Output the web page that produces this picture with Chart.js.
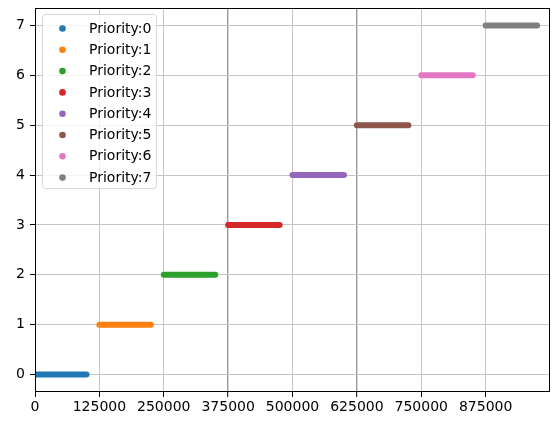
<!DOCTYPE html>
<html>
<head>
<meta charset="utf-8">
<script src="https://cdn.jsdelivr.net/npm/chart.js@4/dist/chart.umd.min.js"></script>
<style>
  html, body { margin: 0; padding: 0; background: #fff; }
  #wrap { width: 552px; height: 421px; }
</style>
</head>
<body>
<div id="wrap"><canvas id="c" width="552" height="421"></canvas></div>
<script>
// Each priority level occupies one horizontal run of samples.
const priorities = ['Priority:0', 'Priority:1', 'Priority:2', 'Priority:3',
                    'Priority:4', 'Priority:5', 'Priority:6', 'Priority:7'];
const levels = [0, 1, 2, 3, 4, 5, 6, 7];
const runStart = [0, 125000, 250000, 375000, 500000, 625000, 750000, 875000];
const runEnd = [100000, 225000, 350000, 475000, 600000, 725000, 850000, 975000];
const colors = ['#1f77b4', '#ff7f0e', '#2ca02c', '#d62728',
                '#9467bd', '#8c564b', '#e377c2', '#7f7f7f'];
const xTicks = [0, 125000, 250000, 375000, 500000, 625000, 750000, 875000];
const yTicks = [0, 1, 2, 3, 4, 5, 6, 7];
const xRange = [0, 1000000];
const yRange = [-0.35, 7.35];
const strongGrid = [375000, 625000];

const FONT = 'DejaVu Sans';
Chart.defaults.font.family = FONT;
Chart.defaults.font.size = 14;
Chart.defaults.color = '#000';

const datasets = priorities.map((name, i) => ({
  label: name,
  data: [{ x: runStart[i], y: levels[i] }, { x: runEnd[i], y: levels[i] }],
  showLine: true,
  borderColor: colors[i],
  backgroundColor: colors[i],
  borderWidth: 6,
  borderCapStyle: 'round',
  pointRadius: 0,
  pointHoverRadius: 0
}));

// Frame around the plotting area plus an in-plot legend box.
const framePlugin = {
  id: 'frameAndLegend',
  afterDraw(chart) {
    const { ctx, chartArea: a } = chart;
    ctx.save();
    ctx.strokeStyle = '#000';
    ctx.lineWidth = 1;
    ctx.strokeRect(Math.round(a.left) + 0.5, Math.round(a.top) + 0.5,
                   Math.round(a.right - a.left) - 1, Math.round(a.bottom - a.top) - 1);

    // legend
    const bx = 42.5, by = 14.5, bw = 114, bh = 174, r = 3;
    ctx.beginPath();
    ctx.moveTo(bx + r, by);
    ctx.lineTo(bx + bw - r, by);
    ctx.quadraticCurveTo(bx + bw, by, bx + bw, by + r);
    ctx.lineTo(bx + bw, by + bh - r);
    ctx.quadraticCurveTo(bx + bw, by + bh, bx + bw - r, by + bh);
    ctx.lineTo(bx + r, by + bh);
    ctx.quadraticCurveTo(bx, by + bh, bx, by + bh - r);
    ctx.lineTo(bx, by + r);
    ctx.quadraticCurveTo(bx, by, bx + r, by);
    ctx.closePath();
    ctx.fillStyle = 'rgba(255,255,255,0.8)';
    ctx.fill();
    ctx.strokeStyle = '#d6d6d6';
    ctx.stroke();

    ctx.font = '14px "' + FONT + '"';
    ctx.textBaseline = 'middle';
    ctx.textAlign = 'left';
    priorities.forEach((name, i) => {
      const y = 28.5 + i * 21.3;
      ctx.beginPath();
      ctx.arc(62.5, y, 3.3, 0, Math.PI * 2);
      ctx.fillStyle = colors[i];
      ctx.fill();
      ctx.fillStyle = '#000';
      ctx.fillText(name, 89, y + 0.5);
    });
    ctx.restore();
  }
};

new Chart(document.getElementById('c'), {
  type: 'scatter',
  data: { datasets },
  options: {
    responsive: false,
    devicePixelRatio: 1,
    animation: false,
    layout: { padding: { top: 8, right: 2, left: 0, bottom: 0 } },
    plugins: { legend: { display: false }, tooltip: { enabled: false } },
    scales: {
      x: {
        type: 'linear',
        min: xRange[0],
        max: xRange[1],
        afterBuildTicks: s => { s.ticks = xTicks.map(v => ({ value: v })); },
        afterFit: s => { s.height = 29; s.paddingLeft = 0; s.paddingRight = 0; },
        ticks: {
          callback: v => String(v),
          maxRotation: 0,
          autoSkip: false,
          padding: 2,
          color: '#000'
        },
        grid: {
          color: c => (c.tick && strongGrid.includes(c.tick.value)) ? '#9a9a9a' : '#c4c4c4',
          lineWidth: c => (c.tick && strongGrid.includes(c.tick.value)) ? 1.4 : 1,
          tickColor: '#000',
          tickLength: 5,
          tickWidth: 1
        },
        border: { display: false }
      },
      y: {
        type: 'linear',
        min: yRange[0],
        max: yRange[1],
        afterBuildTicks: s => { s.ticks = yTicks.map(v => ({ value: v })); },
        afterFit: s => { s.width = 35; s.paddingTop = 0; s.paddingBottom = 0; },
        ticks: {
          callback: v => String(v),
          padding: 5,
          color: '#000'
        },
        grid: {
          color: '#c4c4c4',
          lineWidth: 1,
          tickColor: '#000',
          tickLength: 5,
          tickWidth: 1
        },
        border: { display: false }
      }
    }
  },
  plugins: [framePlugin]
});
</script>
</body>
</html>
